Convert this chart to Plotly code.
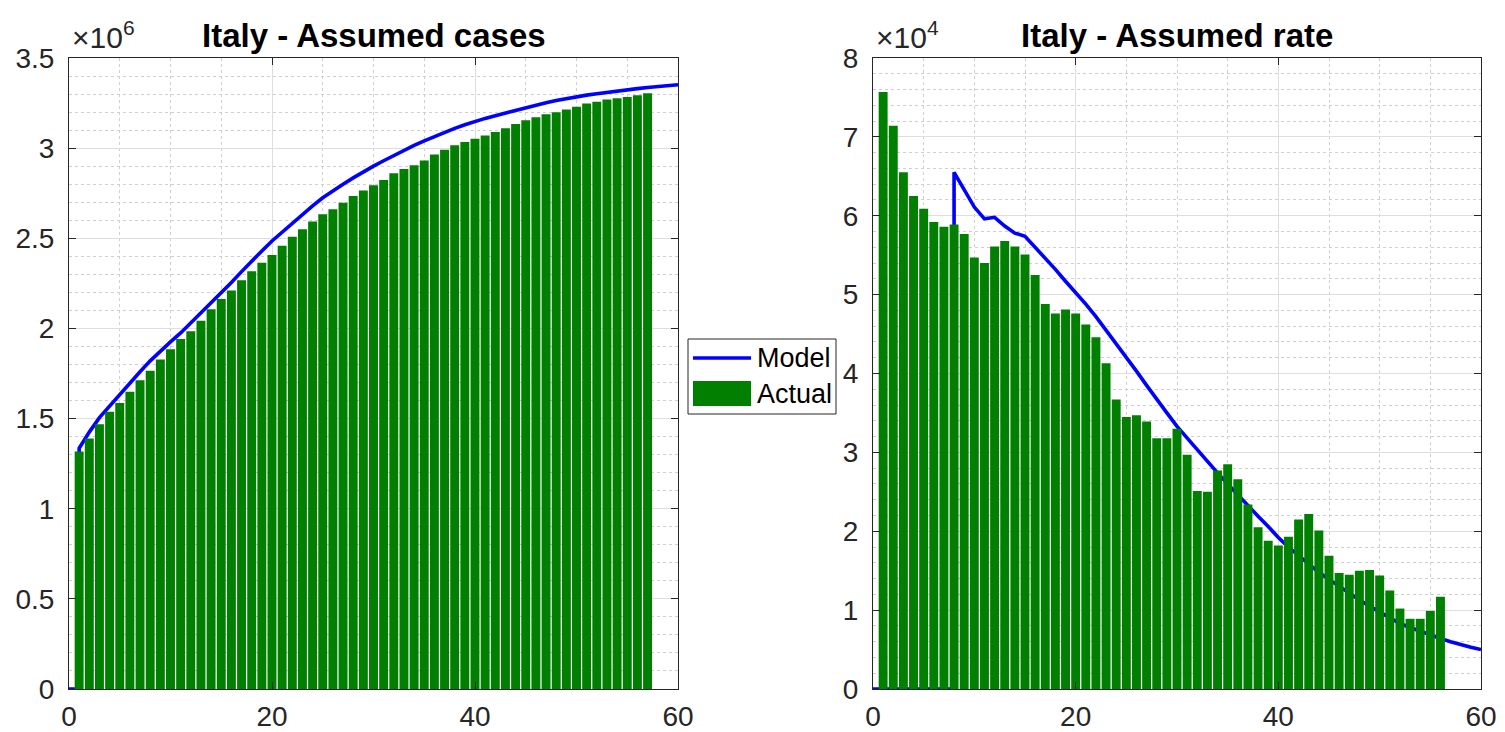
import numpy as np
import plotly.graph_objects as go

# ---------------- data ----------------
case_days = list(range(1, 58))
cases_actual_m = [1.317, 1.389, 1.468, 1.538, 1.586, 1.649, 1.713, 1.765, 1.828, 1.885,
                  1.941, 1.984, 2.043, 2.106, 2.163, 2.210, 2.267, 2.317, 2.364, 2.407,
                  2.459, 2.509, 2.550, 2.593, 2.633, 2.661, 2.697, 2.735, 2.765, 2.794,
                  2.823, 2.861, 2.885, 2.905, 2.932, 2.965, 2.991, 3.016, 3.034, 3.052,
                  3.070, 3.089, 3.110, 3.134, 3.155, 3.171, 3.188, 3.199, 3.214, 3.230,
                  3.247, 3.257, 3.270, 3.277, 3.284, 3.294, 3.305]

case_model_days = [0, 1, 1] + list(range(2, 61))
cases_model_m = [0, 0, 1.335, 1.425, 1.505, 1.570, 1.635, 1.700, 1.760, 1.820, 1.875, 1.925,
                 1.975, 2.030, 2.085, 2.140, 2.195, 2.255, 2.315, 2.375, 2.430, 2.485,
                 2.535, 2.585, 2.635, 2.680, 2.725, 2.765, 2.800, 2.835, 2.870, 2.900,
                 2.930, 2.960, 2.990, 3.015, 3.040, 3.065, 3.090, 3.110, 3.130, 3.150,
                 3.165, 3.180, 3.195, 3.210, 3.225, 3.240, 3.252, 3.264, 3.275, 3.285,
                 3.294, 3.302, 3.310, 3.317, 3.324, 3.330, 3.336, 3.342, 3.347, 3.352]

rate_days = list(range(1, 57))
rate_actual_k = [7.57, 7.14, 6.55, 6.25, 6.09, 5.92, 5.86, 5.89, 5.77, 5.47,
                 5.40, 5.61, 5.68, 5.61, 5.51, 5.25, 4.88, 4.76, 4.81, 4.76,
                 4.62, 4.46, 4.13, 3.67, 3.45, 3.47, 3.39, 3.18, 3.18, 3.30,
                 2.97, 2.51, 2.50, 2.77, 2.85, 2.66, 2.34, 2.05, 1.88, 1.82,
                 1.93, 2.15, 2.22, 2.01, 1.69, 1.47, 1.45, 1.50, 1.51, 1.44,
                 1.25, 1.02, 0.89, 0.89, 0.99, 1.17]

rate_model_days = list(range(0, 9)) + list(range(8, 61))
rate_model_k = [0, 0, 0, 0, 0, 0, 0, 0, 0,
                6.55, 6.33, 6.11, 5.96, 5.98, 5.87, 5.78, 5.74, 5.60, 5.47,
                5.32, 5.17, 5.03, 4.88, 4.72, 4.55, 4.38, 4.21, 4.03, 3.85,
                3.67, 3.50, 3.33, 3.18, 3.03, 2.88, 2.74, 2.60, 2.46, 2.32,
                2.19, 2.06, 1.92, 1.80, 1.69, 1.58, 1.48, 1.39, 1.30, 1.21,
                1.13, 1.05, 0.98, 0.91, 0.83, 0.78, 0.73, 0.68, 0.64, 0.60,
                0.56, 0.53, 0.50]

x_ticks = [0, 20, 40, 60]
left_y_ticks = [0, 0.5, 1, 1.5, 2, 2.5, 3, 3.5]
left_y_labels = ["0", "0.5", "1", "1.5", "2", "2.5", "3", "3.5"]
right_y_ticks = [0, 1, 2, 3, 4, 5, 6, 7, 8]
right_y_labels = ["0", "1", "2", "3", "4", "5", "6", "7", "8"]

titles = ["Italy - Assumed cases", "Italy - Assumed rate"]
exponents = ["6", "4"]
legend_names = ["Model", "Actual"]
left_scale = 1e6
right_scale = 1e4

# ---------------- layout geometry ----------------
OFF = 0  # page margin removed by post_script below
W, H = 1505, 732
FONT = "Liberation Sans, Arial, Helvetica, sans-serif"
TXT = "#262626"
GREEN = "#007F00"
BLUE = "#0000FF"
LW = 3.6

ax_left = (69, 678)
ax_right = (873, 1481)
ax_top, ax_bot = 58, 689

def fx(px):
    return (px - OFF) / W

def fy(py):
    return 1 - (py - OFF) / H

ydom = [fy(ax_bot), fy(ax_top)]

fig = go.Figure()

# model lines on base axes (drawn beneath bars)
fig.add_trace(go.Scatter(x=case_model_days, y=np.array(cases_model_m) * left_scale,
                         mode="lines", line=dict(color=BLUE, width=LW),
                         name=legend_names[0], xaxis="x", yaxis="y"))
fig.add_trace(go.Scatter(x=rate_model_days, y=np.array(rate_model_k) * right_scale,
                         mode="lines", line=dict(color=BLUE, width=LW),
                         name=legend_names[0], xaxis="x2", yaxis="y2"))
# bars on overlaying axes (drawn above lines)
fig.add_trace(go.Bar(x=case_days, y=np.array(cases_actual_m) * left_scale,
                     marker=dict(color=GREEN, line=dict(width=0)), width=0.88,
                     name=legend_names[1], xaxis="x3", yaxis="y3"))
fig.add_trace(go.Bar(x=rate_days, y=np.array(rate_actual_k) * right_scale,
                     marker=dict(color=GREEN, line=dict(width=0)), width=0.88,
                     name=legend_names[1], xaxis="x4", yaxis="y4"))

tickfont = dict(family=FONT, size=28, color=TXT)

def base_x(dom, anchor):
    return dict(domain=dom, anchor=anchor, range=[0, 60], tickvals=x_ticks,
                ticks="inside", ticklen=7, tickcolor=TXT, tickwidth=1,
                showline=True, linecolor=TXT, linewidth=1, mirror="ticks",
                showgrid=True, gridcolor="#dedede", gridwidth=1, zeroline=False,
                minor=dict(dtick=5, showgrid=True, gridcolor="#cfcfcf", griddash="dot", gridwidth=1),
                tickfont=tickfont, ticklabelstandoff=2, automargin=False, fixedrange=True)

def base_y(anchor, rng, vals, texts, mdt):
    return dict(domain=ydom, anchor=anchor, range=rng, tickvals=vals, ticktext=texts,
                ticks="inside", ticklen=7, tickcolor=TXT, tickwidth=1,
                showline=True, linecolor=TXT, linewidth=1, mirror="ticks",
                showgrid=True, gridcolor="#dedede", gridwidth=1, zeroline=False,
                minor=dict(dtick=mdt, showgrid=True, gridcolor="#cfcfcf", griddash="dot", gridwidth=1),
                tickfont=tickfont, ticklabelstandoff=8, automargin=False, fixedrange=True)

def overlay_x(over, anchor):
    return dict(overlaying=over, anchor=anchor, range=[0, 60], visible=False,
                automargin=False, fixedrange=True)

def overlay_y(over, anchor, rng):
    return dict(overlaying=over, anchor=anchor, range=rng, visible=False,
                automargin=False, fixedrange=True)

lrange = [0, 3.5 * left_scale]
rrange = [0, 8 * right_scale]

fig.update_layout(
    width=W, height=H,
    margin=dict(l=0, r=0, t=0, b=0, autoexpand=False),
    paper_bgcolor="white", plot_bgcolor="white",
    font=dict(family=FONT, color=TXT),
    barmode="overlay",
    showlegend=False,
    xaxis=base_x([fx(ax_left[0]), fx(ax_left[1])], "y"),
    yaxis=base_y("x", lrange, [v * left_scale for v in left_y_ticks], left_y_labels, 0.1 * left_scale),
    xaxis2=base_x([fx(ax_right[0]), fx(ax_right[1])], "y2"),
    yaxis2=base_y("x2", rrange, [v * right_scale for v in right_y_ticks], right_y_labels, 0.2 * right_scale),
    xaxis3=overlay_x("x", "y3"),
    yaxis3=overlay_y("y", "x3", lrange),
    xaxis4=overlay_x("x2", "y4"),
    yaxis4=overlay_y("y2", "x4", rrange),
)

annotations = []
for (a, b), t in zip([ax_left, ax_right], titles):
    annotations.append(dict(text="<b>" + t + "</b>", x=fx((a + b) / 2), y=fy(35),
                            xref="paper", yref="paper", xanchor="center", yanchor="middle",
                            showarrow=False, font=dict(family=FONT, size=33, color="black")))
for a, e in zip([ax_left[0], ax_right[0]], exponents):
    annotations.append(dict(text="×10<sup>" + e + "</sup>", x=fx(a + 1), y=fy(56),
                            xref="paper", yref="paper", xanchor="left", yanchor="bottom",
                            showarrow=False, font=dict(family=FONT, size=30, color=TXT)))

# legend drawn by hand (box, line sample, bar sample, labels)
leg_box = (688, 339, 836, 414)
shapes = [
    dict(type="rect", xref="paper", yref="paper", x0=fx(leg_box[0]), x1=fx(leg_box[2]),
         y0=fy(leg_box[3]), y1=fy(leg_box[1]), line=dict(color=TXT, width=1), fillcolor="white",
         layer="above"),
    dict(type="line", xref="paper", yref="paper", x0=fx(693), x1=fx(751), y0=fy(358), y1=fy(358),
         line=dict(color=BLUE, width=LW), layer="above"),
    dict(type="rect", xref="paper", yref="paper", x0=fx(693), x1=fx(751), y0=fy(406), y1=fy(381),
         line=dict(width=0), fillcolor=GREEN, layer="above"),
]
for name, yc in zip(legend_names, [358, 394]):
    annotations.append(dict(text=name, x=fx(755), y=fy(yc), xref="paper", yref="paper",
                            xanchor="left", yanchor="middle", showarrow=False,
                            font=dict(family=FONT, size=27, color="black")))

fig.update_layout(annotations=annotations, shapes=shapes)

fig.write_html("out.html", config={"displayModeBar": False, "staticPlot": True},
               post_script="document.body.style.margin='0';document.body.style.overflow='hidden';")
